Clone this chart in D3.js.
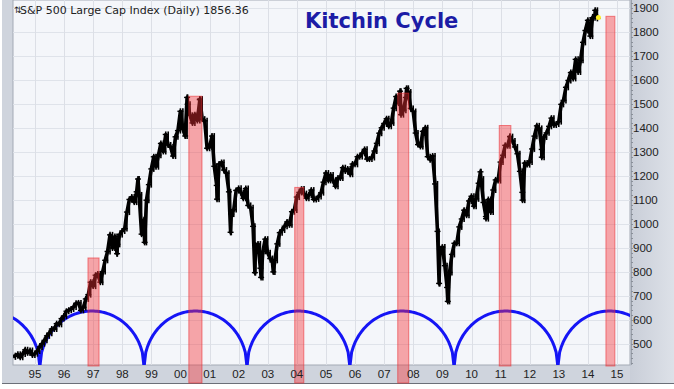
<!DOCTYPE html>
<html>
<head>
<meta charset="utf-8">
<script src="https://cdn.jsdelivr.net/npm/d3@7"></script>
<style>
body { margin: 0; background: #fff; }
svg { display: block; }
</style>
</head>
<body>
<div id="viz"></div>
<script>
const W = 674, H = 389;

// monthly closes of the S&P 500, first month below
const firstMonth = "1994-03";
const closes = [
  445.8, 450.9, 456.5, 444.3, 458.3, 475.5, 462.7, 472.4, 453.7, 459.3,
  470.4, 487.4, 500.7, 514.7, 533.4, 544.8, 562.1, 561.9, 584.4, 581.5, 605.4, 615.9,
  636.0, 640.4, 645.5, 654.2, 669.1, 670.6, 639.9, 652.0, 687.3, 705.3, 757.0, 740.7,
  786.2, 790.8, 757.1, 801.3, 848.3, 885.1, 954.3, 899.5, 947.3, 914.6, 955.4, 970.4,
  980.3, 1049.3, 1101.8, 1111.8, 1090.8, 1133.8, 1120.7, 957.3, 1017.0, 1098.7, 1163.6, 1229.2,
  1279.6, 1238.3, 1286.4, 1335.2, 1301.8, 1372.7, 1328.7, 1320.4, 1282.7, 1362.9, 1388.9, 1469.3,
  1394.5, 1366.4, 1498.6, 1452.4, 1420.6, 1454.6, 1430.8, 1517.7, 1436.5, 1429.4, 1315.2, 1320.3,
  1366.0, 1239.9, 1160.3, 1249.5, 1255.8, 1224.4, 1211.2, 1133.6, 1040.9, 1059.8, 1139.5, 1148.1,
  1130.2, 1106.7, 1147.4, 1076.9, 1067.1, 989.8, 911.6, 916.1, 815.3, 885.8, 936.3, 879.8,
  855.7, 841.2, 848.2, 916.9, 963.6, 974.5, 990.3, 1008.0, 996.0, 1050.7, 1058.2, 1111.9,
  1131.1, 1144.9, 1126.2, 1107.3, 1120.7, 1140.8, 1101.7, 1104.2, 1114.6, 1130.2, 1173.8, 1211.9,
  1181.3, 1203.6, 1180.6, 1156.9, 1191.5, 1191.3, 1234.2, 1220.3, 1228.8, 1207.0, 1249.5, 1248.3,
  1280.1, 1280.7, 1294.9, 1310.6, 1270.1, 1270.2, 1276.7, 1303.8, 1335.9, 1377.9, 1400.6, 1418.3,
  1438.2, 1406.8, 1420.9, 1482.4, 1530.6, 1503.4, 1455.3, 1474.0, 1526.8, 1549.4, 1481.1, 1468.4,
  1378.6, 1330.6, 1322.7, 1385.6, 1400.4, 1280.0, 1267.4, 1282.8, 1166.4, 968.8, 896.2, 903.3,
  825.9, 735.1, 797.9, 872.8, 919.1, 919.3, 987.5, 1020.6, 1057.1, 1036.2, 1095.6, 1115.1,
  1073.9, 1104.5, 1169.4, 1186.7, 1089.4, 1030.7, 1101.6, 1049.3, 1141.2, 1183.3, 1180.6, 1257.6,
  1286.1, 1327.2, 1325.8, 1363.6, 1345.2, 1320.6, 1292.3, 1219.0, 1131.4, 1253.3, 1247.0, 1257.6,
  1312.4, 1365.7, 1408.5, 1397.9, 1310.3, 1362.2, 1379.3, 1406.6, 1440.7, 1412.2, 1416.2, 1426.2,
  1498.1, 1514.7, 1569.2, 1597.6, 1630.7, 1606.3, 1685.7, 1633.0, 1681.6, 1756.5, 1805.8, 1848.4,
  1782.6, 1859.5, 1872.3, 1856.36
];

// intra-month extremes visible on the chart
const extremeDates  = ["1997-10-27", "1998-07-17", "1998-10-08", "2000-03-24", "2000-09-01", "2001-04-04",
                       "2001-09-21", "2002-07-23", "2002-10-09", "2003-03-11", "2007-07-19", "2007-10-09",
                       "2008-11-20", "2009-03-09", "2010-04-23", "2010-07-02", "2011-04-29", "2011-10-03",
                       "2012-06-01", "2014-04-02"];
const extremeValues = [876, 1187, 923, 1527, 1520, 1103,
                       965, 797, 777, 800, 1553, 1565,
                       752, 677, 1217, 1022, 1364, 1099,
                       1278, 1890];

// Kitchin cycle troughs and arc height
const cycleTroughs = ["1991-08-10", "1995-03-03", "1998-10-01", "2002-04-15", "2005-10-27", "2009-05-27", "2012-12-20", "2016-07-12"];
const cyclePeak = 637;
const cycleBase = 405;

// red windows
const winStart = ["1996-10-27", "2000-04-15", "2003-12-05", "2007-06-20", "2010-12-15", "2014-08-15"];
const winEnd   = ["1997-03-15", "2000-09-27", "2004-03-28", "2007-11-05", "2011-05-10", "2014-12-05"];
const winTop   = [858, 1532, 1152, 1545, 1410, 1865];
const winLong  = [false, true, true, true, false, false];

const yTicks = [500, 600, 700, 800, 900, 1000, 1100, 1200, 1300, 1400, 1500, 1600, 1700, 1800, 1900];
const xTickYears = [1995, 1996, 1997, 1998, 1999, 2000, 2001, 2002, 2003, 2004, 2005,
                    2006, 2007, 2008, 2009, 2010, 2011, 2012, 2013, 2014, 2015];

const title = "S&P 500 Large Cap Index (Daily) 1856.36";
const heading = "Kitchin Cycle";

const pl = 13, pr = 630, pt = 0, pb = 365;

const parse = d3.timeParse("%Y-%m-%d");
const x = d3.scaleTime()
  .domain([new Date(1994, 2, 31), new Date(2015, 5, 13)])
  .range([pl, pr]);
const y = d3.scaleLinear()
  .domain([412, 1933])
  .range([pb, pt]);

const m0 = d3.timeParse("%Y-%m")(firstMonth);
const series = closes.map((v, i) => ({ date: d3.timeDay.offset(d3.timeMonth.offset(m0, i + 1), -1), v: v }))
  .concat(extremeDates.map((d, i) => ({ date: parse(d), v: extremeValues[i] })))
  .sort((a, b) => a.date - b.date);

const svg = d3.select('#viz').append('svg')
  .attr('width', W)
  .attr('height', H);

const defs = svg.append('defs');
const grad = defs.append('linearGradient').attr('id', 'axisbg')
  .attr('x1', 0).attr('x2', 1).attr('y1', 0).attr('y2', 0);
grad.append('stop').attr('offset', '0%').attr('stop-color', '#c9ced8');
grad.append('stop').attr('offset', '100%').attr('stop-color', '#dde1e8');
defs.append('clipPath').attr('id', 'plotclip')
  .append('rect').attr('x', pl).attr('y', pt).attr('width', pr - pl).attr('height', pb - pt);

// frame
svg.append('rect').attr('x', 0).attr('y', 0).attr('width', W).attr('height', H).attr('fill', '#ffffff');
svg.append('rect').attr('x', 2).attr('y', 0).attr('width', W - 2).attr('height', 383).attr('fill', '#cfd4dd');
svg.append('rect').attr('x', pr).attr('y', 0).attr('width', W - pr).attr('height', 383).attr('fill', 'url(#axisbg)');
svg.append('line').attr('x1', 2).attr('x2', W).attr('y1', 383.5).attr('y2', 383.5).attr('stroke', '#6b6f78');
svg.append('rect').attr('x', pl).attr('y', pt).attr('width', pr - pl).attr('height', pb - pt)
  .attr('fill', '#f4f6fa').attr('stroke', '#a4aab5');

// grid
svg.append('g').selectAll('line').data(yTicks).enter().append('line')
  .attr('x1', pl).attr('x2', pr)
  .attr('y1', d => Math.round(y(d)) + 0.5).attr('y2', d => Math.round(y(d)) + 0.5)
  .attr('stroke', '#dfe3ea');
svg.append('g').selectAll('line').data(xTickYears).enter().append('line')
  .attr('x1', d => Math.round(x(new Date(d, 0, 1))) + 0.5)
  .attr('x2', d => Math.round(x(new Date(d, 0, 1))) + 0.5)
  .attr('y1', pt).attr('y2', pb)
  .attr('stroke', '#dcdfe6');

const plot = svg.append('g').attr('clip-path', 'url(#plotclip)');

// cycle arcs between troughs
const arcs = d3.pairs(cycleTroughs.map(parse)).map(([a, b]) =>
  d3.range(0, 61).map(k => {
    const t = k / 60;
    const s = Math.sqrt(Math.max(0, 1 - (2 * t - 1) * (2 * t - 1)));
    return [x(new Date(+a + t * (b - a))), y(cycleBase + (cyclePeak - cycleBase) * s)];
  }));
plot.append('g').selectAll('path').data(arcs).enter().append('path')
  .attr('d', d3.line())
  .attr('fill', 'none')
  .attr('stroke', '#1515f5')
  .attr('stroke-width', 3);

// price trace
plot.append('g').selectAll('line').data(d3.pairs(series)).enter().append('line')
  .attr('x1', d => x(d[1].date)).attr('x2', d => x(d[1].date))
  .attr('y1', d => y(Math.max(d[0].v, d[1].v)) - 3)
  .attr('y2', d => y(Math.min(d[0].v, d[1].v)) + 3)
  .attr('stroke', '#000').attr('stroke-width', 1.6);
plot.append('path')
  .datum(series)
  .attr('d', d3.line().x(d => x(d.date)).y(d => y(d.v)))
  .attr('fill', 'none')
  .attr('stroke', '#000')
  .attr('stroke-width', 3.6)
  .attr('stroke-linejoin', 'round');
plot.append('g').selectAll('line').data(series).enter().append('line')
  .attr('x1', d => x(d.date) - 3).attr('x2', d => x(d.date) + 3)
  .attr('y1', d => y(d.v)).attr('y2', d => y(d.v))
  .attr('stroke', '#000').attr('stroke-width', 1.4);

// last price
const last = series[series.length - 1];
svg.append('circle').attr('cx', x(last.date) + 1).attr('cy', y(last.v) - 1).attr('r', 2.5).attr('fill', '#ffee22');

// red windows
svg.append('g').selectAll('rect').data(winStart).enter().append('rect')
  .attr('x', d => x(parse(d)))
  .attr('y', (d, i) => y(winTop[i]))
  .attr('width', (d, i) => x(parse(winEnd[i])) - x(parse(d)))
  .attr('height', (d, i) => (winLong[i] ? 383 : pb + 1) - y(winTop[i]))
  .attr('fill', 'rgba(245, 50, 55, 0.42)')
  .attr('stroke', 'rgba(235, 40, 45, 0.55)')
  .attr('stroke-width', 1);

// right axis
svg.append('line').attr('x1', pr + 1.5).attr('x2', pr + 1.5).attr('y1', pt).attr('y2', pb)
  .attr('stroke', '#9aa0aa');
svg.append('g').selectAll('line').data(d3.range(420, 1940, 20)).enter().append('line')
  .attr('x1', pr + 1).attr('x2', pr + 3)
  .attr('y1', d => Math.round(y(d)) + 0.5).attr('y2', d => Math.round(y(d)) + 0.5)
  .attr('stroke', '#8a909a');
svg.append('g').selectAll('text').data(yTicks).enter().append('text')
  .attr('x', pr + 3)
  .attr('y', d => y(d))
  .attr('dy', '0.36em')
  .attr('font-family', 'Liberation Sans, Arial, sans-serif')
  .attr('font-size', 11.5)
  .attr('fill', '#222')
  .text(d => d);

// bottom axis
svg.append('g').selectAll('text').data(xTickYears).enter().append('text')
  .attr('x', d => x(new Date(d, 0, 1)))
  .attr('y', 378)
  .attr('text-anchor', 'middle')
  .attr('font-family', 'Liberation Sans, Arial, sans-serif')
  .attr('font-size', 11.5)
  .attr('fill', '#222')
  .text(d => String(d % 100).padStart(2, '0'));

// titles
svg.append('text').attr('x', 14).attr('y', 13)
  .attr('font-family', 'DejaVu Sans, sans-serif').attr('font-size', 9).attr('fill', '#222')
  .text('⇅');
svg.append('text').attr('x', 20).attr('y', 14)
  .attr('font-family', 'DejaVu Sans, Verdana, sans-serif').attr('font-size', 11)
  .attr('fill', '#222')
  .text(title);
svg.append('text').attr('x', 305).attr('y', 28)
  .attr('font-family', 'DejaVu Sans, Verdana, sans-serif').attr('font-size', 21)
  .attr('font-weight', 'bold')
  .attr('fill', '#1c1ca6')
  .text(heading);
</script>
</body>
</html>
